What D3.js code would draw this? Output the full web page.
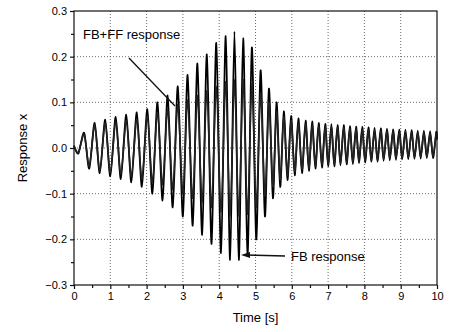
<!DOCTYPE html>
<html>
<head>
<meta charset="utf-8">
<script src="https://cdn.jsdelivr.net/npm/d3@7"></script>
<style>
  body { margin: 0; background: #fff; }
  svg { font-family: Arial, "Liberation Sans", sans-serif; }
</style>
</head>
<body>
<div id="chart"></div>
<script>
// Time of each turning point of the response [s]
const extremeTimes = [
    0, 0.12, 0.28, 0.42, 0.57, 0.71, 0.86, 1.0, 1.15, 1.29,
    1.44, 1.58, 1.73, 1.87, 2.02, 2.16, 2.3, 2.44, 2.58, 2.72,
    2.86, 3.0, 3.13, 3.27, 3.4, 3.53, 3.66, 3.79, 3.92, 4.05,
    4.18, 4.3, 4.42, 4.54, 4.66, 4.78, 4.9, 5.02, 5.14, 5.26,
    5.37, 5.48, 5.58, 5.68, 5.78, 5.88, 5.98, 6.08, 6.18, 6.28,
    6.38, 6.47, 6.56, 6.65, 6.74, 6.83, 6.92, 7.0, 7.09, 7.17,
    7.26, 7.34, 7.43, 7.51, 7.6, 7.68, 7.77, 7.85, 7.94, 8.02,
    8.11, 8.19, 8.28, 8.36, 8.45, 8.53, 8.62, 8.7, 8.79, 8.87,
    8.96, 9.04, 9.13, 9.21, 9.3, 9.38, 9.47, 9.55, 9.64, 9.72,
    9.81, 9.89, 9.98, 10.0
];

// FB response at those times
const fbValues = [
    0.005, -0.012, 0.033, -0.045, 0.055, -0.055, 0.062, -0.062, 0.068, -0.068,
    0.073, -0.075, 0.078, -0.085, 0.085, -0.1, 0.1, -0.115, 0.115, -0.13,
    0.135, -0.15, 0.16, -0.17, 0.185, -0.19, 0.205, -0.21, 0.23, -0.23,
    0.245, -0.245, 0.255, -0.245, 0.24, -0.235, 0.22, -0.2, 0.17, -0.15,
    0.13, -0.11, 0.1, -0.085, 0.08, -0.07, 0.07, -0.06, 0.065, -0.055,
    0.06, -0.05, 0.058, -0.045, 0.055, -0.043, 0.053, -0.04, 0.052, -0.04,
    0.05, -0.038, 0.05, -0.036, 0.048, -0.035, 0.047, -0.033, 0.046, -0.032,
    0.045, -0.03, 0.044, -0.03, 0.043, -0.028, 0.042, -0.027, 0.041, -0.026,
    0.04, -0.025, 0.04, -0.025, 0.039, -0.024, 0.038, -0.023, 0.038, -0.022,
    0.037, -0.022, 0.035, 0.02
];

// FB+FF response at those times
const fbffValues = [
    0.005, -0.01, 0.03, -0.04, 0.05, -0.05, 0.055, -0.055, 0.058, -0.058,
    0.06, -0.062, 0.064, -0.068, 0.07, -0.075, 0.078, -0.08, 0.085, -0.09,
    0.095, -0.1, 0.105, -0.11, 0.115, -0.12, 0.125, -0.13, 0.135, -0.14,
    0.145, -0.15, 0.15, -0.15, 0.15, -0.145, 0.14, -0.13, 0.12, -0.105,
    0.1, -0.085, 0.08, -0.07, 0.068, -0.06, 0.06, -0.052, 0.055, -0.048,
    0.052, -0.045, 0.05, -0.04, 0.048, -0.038, 0.047, -0.036, 0.046, -0.035,
    0.045, -0.034, 0.044, -0.032, 0.043, -0.031, 0.042, -0.03, 0.041, -0.029,
    0.04, -0.027, 0.039, -0.027, 0.038, -0.025, 0.038, -0.024, 0.037, -0.023,
    0.036, -0.022, 0.036, -0.022, 0.035, -0.021, 0.034, -0.02, 0.034, -0.02,
    0.033, -0.019, 0.032, 0.018
];

const xTicks = [0, 1, 2, 3, 4, 5, 6, 7, 8, 9, 10];
const yTicks = [-0.3, -0.2, -0.1, 0.0, 0.1, 0.2, 0.3];

const fbData = extremeTimes.map((t, i) => ({ t: t, v: fbValues[i] }));
const fbffData = extremeTimes.map((t, i) => ({ t: t, v: fbffValues[i] }));

// Chart dimensions
const W = 452, H = 332;
const margin = { top: 11, right: 15, bottom: 47, left: 74 };
const width = W - margin.left - margin.right;
const height = H - margin.top - margin.bottom;

const svg = d3.select("#chart").append("svg")
    .attr("width", W)
    .attr("height", H);

const g = svg.append("g")
    .attr("transform", `translate(${margin.left},${margin.top})`);

const x = d3.scaleLinear().domain([0, 10]).range([0, width]);
const y = d3.scaleLinear().domain([-0.3, 0.3]).range([height, 0]);

// Dotted grid
g.append("g")
    .selectAll("line.vg")
    .data(xTicks.slice(1, -1))
    .enter().append("line")
    .attr("x1", d => x(d)).attr("x2", d => x(d))
    .attr("y1", 0).attr("y2", height)
    .attr("stroke", "#444")
    .attr("stroke-width", 0.8)
    .attr("stroke-dasharray", "1,2");

g.append("g")
    .selectAll("line.hg")
    .data(yTicks.slice(1, -1))
    .enter().append("line")
    .attr("x1", 0).attr("x2", width)
    .attr("y1", d => y(d)).attr("y2", d => y(d))
    .attr("stroke", "#444")
    .attr("stroke-width", 0.8)
    .attr("stroke-dasharray", "1,2");

// Response curves
const line = d3.line()
    .x(d => x(d.t))
    .y(d => y(d.v))
    .curve(d3.curveCardinal.tension(0.2));

g.append("path")
    .datum(fbData)
    .attr("fill", "none")
    .attr("stroke", "#000")
    .attr("stroke-width", 1.8)
    .attr("d", line);

g.append("path")
    .datum(fbffData)
    .attr("fill", "none")
    .attr("stroke", "#222")
    .attr("stroke-width", 1.6)
    .attr("d", line);

// Frame
g.append("rect")
    .attr("width", width)
    .attr("height", height)
    .attr("fill", "none")
    .attr("stroke", "#111")
    .attr("stroke-width", 1.2);

// Axes
g.append("g")
    .attr("transform", `translate(0,${height})`)
    .call(d3.axisBottom(x).tickValues(xTicks).tickFormat(d3.format("d")).tickSize(4).tickPadding(3));

g.append("g")
    .attr("transform", `translate(0,${height})`)
    .call(d3.axisBottom(x).tickValues(d3.range(0.5, 10, 1)).tickFormat("").tickSize(3));

g.append("g")
    .call(d3.axisLeft(y).tickValues(yTicks).tickFormat(d3.format(".1f")).tickSize(4).tickPadding(3));

g.append("g")
    .call(d3.axisLeft(y).tickValues(d3.range(-0.25, 0.3, 0.1)).tickFormat("").tickSize(3));

g.selectAll(".domain").remove();
g.selectAll(".tick line").attr("stroke", "#111").attr("stroke-width", 1.2);
g.selectAll(".tick text")
    .attr("fill", "#000")
    .style("font-size", "11px");

// Axis titles
svg.append("text")
    .attr("x", margin.left + width / 2)
    .attr("y", 322)
    .attr("text-anchor", "middle")
    .style("font-size", "13px")
    .attr("fill", "#000")
    .text("Time [s]");

svg.append("text")
    .attr("transform", `translate(27,${margin.top + height / 2}) rotate(-90)`)
    .attr("text-anchor", "middle")
    .style("font-size", "13px")
    .attr("fill", "#000")
    .text("Response x");

// Annotations
svg.append("text")
    .attr("x", 83)
    .attr("y", 39)
    .style("font-size", "13px")
    .attr("fill", "#000")
    .text("FB+FF response");

svg.append("line")
    .attr("x1", 129).attr("y1", 58)
    .attr("x2", 175).attr("y2", 106)
    .attr("stroke", "#111")
    .attr("stroke-width", 1.3);

svg.append("text")
    .attr("x", 291)
    .attr("y", 261)
    .style("font-size", "13px")
    .attr("fill", "#000")
    .text("FB response");

svg.append("line")
    .attr("x1", 285).attr("y1", 256)
    .attr("x2", 246).attr("y2", 255)
    .attr("stroke", "#111")
    .attr("stroke-width", 1.3);

svg.append("path")
    .attr("d", "M241,255 L250,252 L250,258 Z")
    .attr("fill", "#111");
</script>
</body>
</html>
